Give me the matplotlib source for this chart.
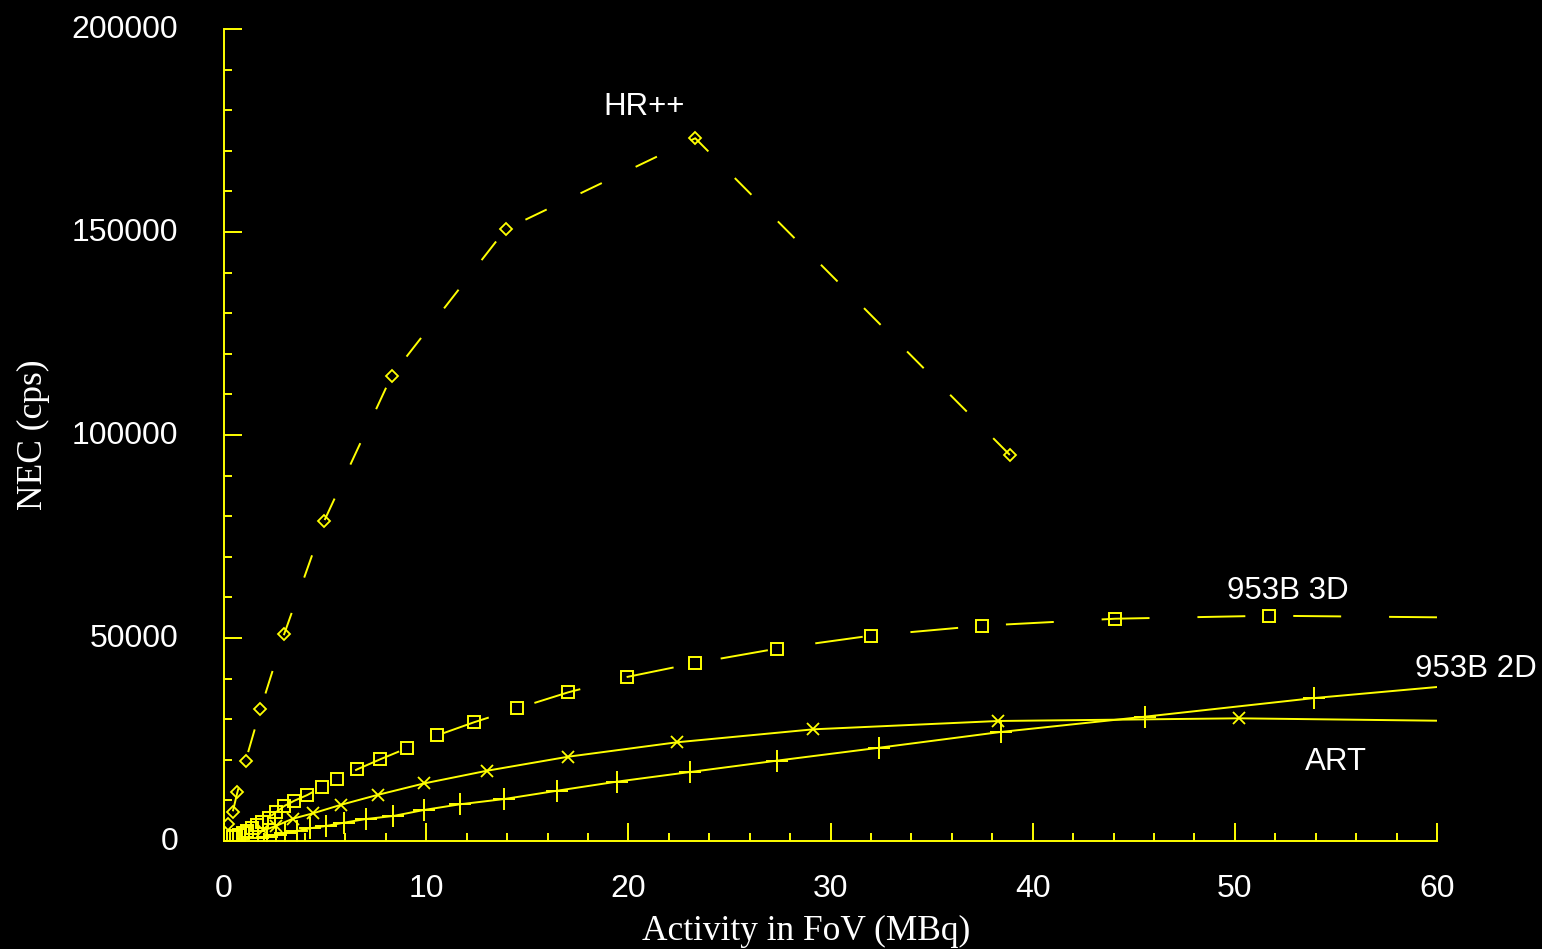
import matplotlib
matplotlib.use("Agg")
from matplotlib import pyplot as plt
from matplotlib.transforms import ScaledTranslation

# HR++ (diamonds, short dashes)
hr_x = [0.21, 0.43, 0.66, 1.07, 1.80, 2.97, 4.96, 8.29, 13.93, 23.31, 38.87]
hr_y = [4100, 7200, 12000, 19800, 32400, 50900, 78900, 114600, 150700, 173100, 95100]

# 953B 3D (squares, long dashes)
b3d_x = [0.45, 0.59, 0.76, 0.92, 1.12, 1.37, 1.62, 1.89, 2.21, 2.56, 2.98, 3.48,
         4.12, 4.83, 5.60, 6.59, 7.72, 9.07, 10.55, 12.36, 14.51, 17.03, 19.92,
         23.31, 27.33, 31.98, 37.50, 44.07, 51.67, 60.0]
b3d_y = [900, 1230, 1480, 1900, 2460, 3130, 3940, 4750, 5740, 7070, 8620, 9930,
         11330, 13230, 15200, 17660, 20120, 22910, 26030, 29240, 32690, 36630, 40390,
         43840, 47370, 50570, 53030, 54750, 55490, 55100]

# 953B 2D (plus, solid)
b2d_x = [1.7, 2.1, 2.56, 3.02, 3.60, 4.25, 5.03, 5.93, 7.02, 8.37, 9.89, 11.67,
         13.86, 16.48, 19.42, 23.05, 27.33, 32.41, 38.41, 45.55, 53.94, 60.0]
b2d_y = [800, 1100, 1480, 1900, 2460, 3120, 3690, 4510, 5420, 6160, 7640, 9040,
         10340, 12390, 14610, 16990, 19780, 22980, 26850, 30620, 35220, 37930]

# ART (x, solid)
art_x = [1.95, 2.56, 3.40, 4.40, 5.80, 7.63, 9.91, 13.02, 17.03, 22.39, 29.15, 38.29, 50.20, 60.0]
art_y = [2600, 3690, 5490, 6820, 8940, 11400, 14200, 17320, 20770, 24310, 27510, 29560, 30220, 29630]

YEL = "#ffff00"
plt.rcParams["lines.scale_dashes"] = False
plt.rcParams["font.family"] = ["Liberation Sans", "DejaVu Sans"]

fig = plt.figure(figsize=(15.42, 9.49), dpi=100, facecolor="black")
ax = fig.add_axes([0.1453, 0.1138, 0.7866, 0.8556])
ax.set_facecolor("black")

# dashed curves drawn from the far end so the dash pattern starts there
ax.plot(hr_x[::-1], hr_y[::-1], color=YEL, lw=1.4, dashes=(17, 27), marker="D", ms=6,
        mfc="none", mec=YEL, mew=1.3)
ax.plot(b3d_x[::-1], b3d_y[::-1], color=YEL, lw=1.4, dashes=(34.5, 34.5), marker="s", ms=8,
        mfc="none", mec=YEL, mew=1.4, markevery=list(range(1, len(b3d_x))))
ax.plot(b2d_x, b2d_y, color=YEL, lw=1.4, marker="+", ms=16.5, mec=YEL, mew=1.4,
        markevery=list(range(len(b2d_x) - 1)))
ax.plot(art_x, art_y, color=YEL, lw=1.4, marker="x", ms=8, mec=YEL, mew=1.3,
        markevery=list(range(len(art_x) - 1)))

ax.set_xlim(0, 60)
ax.set_ylim(0, 200000)
ax.set_xticks(range(0, 61, 10))
ax.set_xticks(range(0, 61, 2), minor=True)
ax.set_yticks(range(0, 200001, 50000))
ax.set_yticks(range(0, 200001, 10000), minor=True)

for s in ["top", "right"]:
    ax.spines[s].set_visible(False)
for s in ["left", "bottom"]:
    ax.spines[s].set_color(YEL)
    ax.spines[s].set_linewidth(1.4)

ax.tick_params(which="both", direction="in", color=YEL, width=1.4, labelcolor="white",
               labelsize=23)
ax.tick_params(which="major", length=13)
ax.tick_params(which="minor", length=6)
ax.tick_params(axis="y", pad=33)
ax.tick_params(axis="x", pad=24)

up = ScaledTranslation(0, 3 / 100, fig.dpi_scale_trans)
for lab in ax.get_yticklabels():
    lab.set_transform(lab.get_transform() + up)

serif = ["Liberation Serif", "DejaVu Serif"]
fig.text(806 / 1542, 1 - 931 / 949, "Activity in FoV (MBq)", color="white",
         fontsize=25.5, family=serif, ha="center", va="center")
fig.text(33 / 1542, 1 - 435 / 949, "NEC (cps)", color="white", fontsize=25.5,
         family=serif, rotation=90, ha="center", va="center")

kw = dict(color="white", fontsize=22.5, ha="left", va="center", clip_on=False)
ax.text(18.74, 180800, "HR++", **kw)
ax.text(49.6, 61600, "953B 3D", **kw)
ax.text(58.9, 42400, "953B 2D", **kw)
ax.text(53.46, 19500, "ART", **kw)

fig.savefig("out.png", dpi=100, facecolor="black")
